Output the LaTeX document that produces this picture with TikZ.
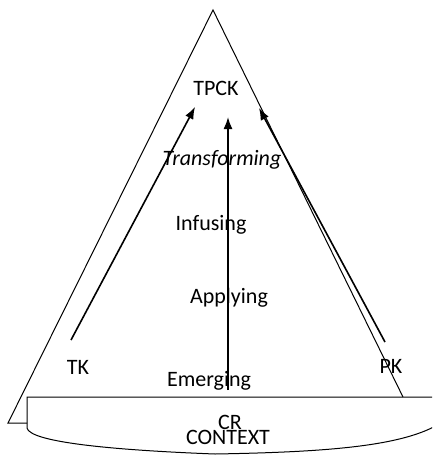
\documentclass[tikz,border=0pt]{standalone}
\usepackage{fontspec}
\setmainfont{Carlito}
\usetikzlibrary{arrows.meta}
\begin{document}
\begin{tikzpicture}[x=1pt,y=-1pt,line width=1pt,
  lbl/.style={inner sep=0pt,font=\fontsize{22}{24}\selectfont},
  arr/.style={line width=1.6pt,-{Latex[length=12pt,width=9pt]}}]
\useasboundingbox (0,0) rectangle (432,455);
\clip (0,0) rectangle (432,455);
% triangle
\coordinate (apex) at (213,10);
\coordinate (bl) at (8,423);
\coordinate (blr) at (27,423);
\coordinate (br) at (403,397);
\draw (blr) -- (bl) -- (apex) -- (br);
% context shape
\draw (440,397) -- (27,397) -- (27,428) .. controls (30,442) and (110,450) .. (215,454) .. controls (330,452) and (410,446) .. (445,420);
% labels
\node[lbl] (tpck) at (216,88) {TPCK};
\node[lbl,font=\fontsize{22}{24}\selectfont\itshape] (tr) at (222,160) {Transforming};
\node[lbl] (inf) at (211,225) {Infusing};
\node[lbl] (app) at (229,298) {Applying};
\node[lbl] (em) at (209,381) {Emerging};
\node[lbl] (tk) at (78,367) {TK};
\node[lbl] (pk) at (391,366) {PK};
\node[lbl] (cr) at (230,422) {CR};
\node[lbl] (ctx) at (228,437) {CONTEXT};
% arrows
\coordinate (tks) at (71,340);
\coordinate (tkt) at (195,107);
\coordinate (ems) at (228,390);
\coordinate (emt) at (228,117);
\coordinate (pks) at (385,342);
\coordinate (pkt) at (259,108);
\draw[arr] (tks) -- (tkt);
\draw[arr] (ems) -- (emt);
\draw[arr] (pks) -- (pkt);
\end{tikzpicture}
\end{document}
